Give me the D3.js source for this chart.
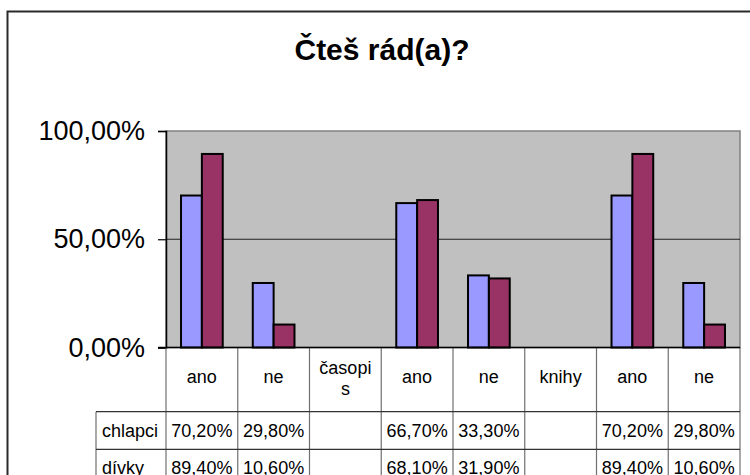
<!DOCTYPE html>
<html>
<head>
<meta charset="utf-8">
<script src="https://cdn.jsdelivr.net/npm/d3@7"></script>
<style>
  body { margin: 0; background: #fff; }
  svg { display: block; font-family: "Liberation Sans", Arial, sans-serif; }
</style>
</head>
<body>
<div id="chart"></div>
<script>
// data
var categories = ["ano", "ne", "časopis", "ano", "ne", "knihy", "ano", "ne"];
var seriesNames = ["chlapci", "dívky"];
var chlapci = [0.702, 0.298, null, 0.667, 0.333, null, 0.702, 0.298];
var divky = [0.894, 0.106, null, 0.681, 0.319, null, 0.894, 0.106];
var yTicks = [0, 0.5, 1];
var colors = ["#9999FF", "#993366"];

var width = 750, height = 475;
var plot = { left: 166, right: 740, top: 131, bottom: 347.5 };
var rowTop = 411.7, rowH = 37.6, labelColLeft = 96;

var cz = d3.formatLocale({ decimal: ",", thousands: " ", grouping: [3], currency: ["", " Kč"] });
var pct = cz.format(".2%");

var svg = d3.select("#chart").append("svg")
    .attr("width", width)
    .attr("height", height);

// ramecek grafu (uriznuty vpravo a dole)
svg.append("rect")
    .attr("x", 7.5).attr("y", 11.5)
    .attr("width", 800).attr("height", 600)
    .attr("fill", "#fff")
    .attr("stroke", "#2a2a2a")
    .attr("stroke-width", 2);

svg.append("text")
    .attr("x", 382).attr("y", 60)
    .attr("text-anchor", "middle")
    .attr("font-size", 30)
    .attr("font-weight", "bold")
    .text("Čteš rád(a)?");

var x = d3.scaleBand()
    .domain(d3.range(categories.length))
    .range([plot.left, plot.right]);
var xInner = d3.scaleBand()
    .domain(d3.range(seriesNames.length))
    .range([0, x.bandwidth()])
    .paddingOuter(0.72)
    .paddingInner(0);
var y = d3.scaleLinear()
    .domain([0, 1])
    .range([plot.bottom, plot.top]);

// plocha
svg.append("rect")
    .attr("x", plot.left).attr("y", plot.top)
    .attr("width", plot.right - plot.left)
    .attr("height", plot.bottom - plot.top)
    .attr("fill", "#C0C0C0")
    .attr("stroke", "#808080")
    .attr("stroke-width", 1.5);

// mrizka
svg.append("g").selectAll("line")
    .data(yTicks.filter(function(d) { return d > 0 && d < 1; }))
    .enter().append("line")
    .attr("x1", plot.left).attr("x2", plot.right)
    .attr("y1", function(d) { return y(d); })
    .attr("y2", function(d) { return y(d); })
    .attr("stroke", "#222")
    .attr("stroke-width", 1);

// sloupce
var series = [chlapci, divky];
series.forEach(function(vals, si) {
    svg.append("g").selectAll("rect")
        .data(vals.map(function(v, i) { return { i: i, v: v }; })
            .filter(function(d) { return d.v != null; }))
        .enter().append("rect")
        .attr("x", function(d) { return x(d.i) + xInner(si); })
        .attr("y", function(d) { return y(d.v); })
        .attr("width", xInner.bandwidth())
        .attr("height", function(d) { return y(0) - y(d.v); })
        .attr("fill", colors[si])
        .attr("stroke", "#000")
        .attr("stroke-width", 2);
});

// osa y
var yAxis = d3.axisLeft(y)
    .tickValues(yTicks)
    .tickFormat(pct)
    .tickSize(8)
    .tickPadding(13);
var ga = svg.append("g")
    .attr("transform", "translate(" + plot.left + ",0)")
    .call(yAxis);
ga.select(".domain").attr("stroke", "#000").attr("stroke-width", 1.5);
ga.selectAll(".tick line").attr("stroke", "#000").attr("stroke-width", 1.2);
ga.selectAll(".tick text")
    .attr("font-size", 27)
    .attr("font-family", "Liberation Sans, Arial, sans-serif")
    .attr("fill", "#000");

// tabulka dat
var tableBottom = rowTop + rowH * 2 + 10;
var grid = svg.append("g").attr("stroke", "#707070").attr("stroke-width", 1.2);
var bounds = d3.range(categories.length + 1).map(function(i) {
    return i < categories.length ? x(i) : plot.right;
});
grid.selectAll("line.v")
    .data(bounds)
    .enter().append("line")
    .attr("x1", function(d) { return d; }).attr("x2", function(d) { return d; })
    .attr("y1", plot.bottom).attr("y2", tableBottom);
grid.append("line")
    .attr("x1", labelColLeft).attr("x2", labelColLeft)
    .attr("y1", rowTop).attr("y2", tableBottom);
grid.selectAll("line.h")
    .data([rowTop, rowTop + rowH])
    .enter().append("line")
    .attr("x1", labelColLeft).attr("x2", plot.right)
    .attr("y1", function(d) { return d; }).attr("y2", function(d) { return d; })
    .attr("stroke", "#333");

// osa x (spodni hrana plochy)
svg.append("line")
    .attr("x1", plot.left - 8).attr("x2", plot.right)
    .attr("y1", plot.bottom).attr("y2", plot.bottom)
    .attr("stroke", "#000").attr("stroke-width", 1.5);

// popisky kategorii se zalamovanim po znacich
var catG = svg.append("g")
    .attr("font-size", 18)
    .attr("text-anchor", "middle");
categories.forEach(function(c, i) {
    var cx = x(i) + x.bandwidth() / 2;
    var t = catG.append("text").attr("x", cx).attr("y", 383).text(c);
    var maxW = x.bandwidth() - 15;
    if (t.node().getComputedTextLength() > maxW) {
        var lines = [], cur = "";
        for (var k = 0; k < c.length; k++) {
            t.text(cur + c[k]);
            if (t.node().getComputedTextLength() > maxW && cur) {
                lines.push(cur);
                cur = c[k];
            } else {
                cur += c[k];
            }
        }
        lines.push(cur);
        t.text(null).attr("y", 374);
        lines.forEach(function(l, li) {
            t.append("tspan").attr("x", cx).attr("dy", li ? 21 : 0).text(l);
        });
    }
});

// radky tabulky
var rowG = svg.append("g").attr("font-size", 18);
series.forEach(function(vals, si) {
    var by = rowTop + rowH * si + 25;
    rowG.append("text")
        .attr("x", 102).attr("y", by)
        .text(seriesNames[si]);
    rowG.selectAll("text.v" + si)
        .data(vals.map(function(v, i) { return { i: i, v: v }; })
            .filter(function(d) { return d.v != null; }))
        .enter().append("text")
        .attr("x", function(d) { return x(d.i) + x.bandwidth() / 2; })
        .attr("y", by)
        .attr("text-anchor", "middle")
        .text(function(d) { return pct(d.v); });
});
</script>
</body>
</html>
